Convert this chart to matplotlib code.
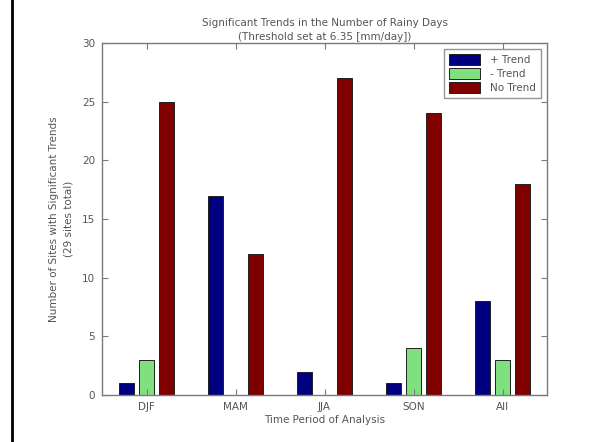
import matplotlib
matplotlib.use("Agg")
import matplotlib.pyplot as plt
import numpy as np
from matplotlib.lines import Line2D

categories = ["DJF", "MAM", "JJA", "SON", "All"]
plus_trend = [1, 17, 2, 1, 8]
minus_trend = [3, 0, 0, 4, 3]
no_trend = [25, 12, 27, 24, 18]
series_names = ["+ Trend", "- Trend", "No Trend"]
colors = ["#000080", "#80e080", "#800000"]

fig = plt.figure(figsize=(6.13, 4.42), dpi=100)
W, H = 613, 442
ax = fig.add_axes([102 / W, 1 - 395 / H, 445 / W, 352 / H])

x = np.arange(1, len(categories) + 1)
offs = [-0.22, 0.0, 0.22]
bw = 0.17
for vals, off, c, name in zip([plus_trend, minus_trend, no_trend], offs, colors, series_names):
    ax.bar(x + off, vals, width=bw, color=c, edgecolor="#202020", linewidth=0.7, label=name)

ax.set_xlim(0.5, 5.5)
ax.set_ylim(0, 30)
ax.set_yticks(range(0, 31, 5))
ax.set_xticks(x)
ax.set_xticklabels(categories)
gray = "#7a7a7a"
tcol = "#555555"
for s in ax.spines.values():
    s.set_color(gray)
    s.set_linewidth(1.0)
ax.tick_params(direction="in", top=True, right=True, length=4, color=gray,
               labelsize=7.5, labelcolor=tcol, pad=5)

ax.set_title("Significant Trends in the Number of Rainy Days\n(Threshold set at 6.35 [mm/day])",
             fontsize=7.5, color=tcol, pad=2, linespacing=1.5)
ax.set_xlabel("Time Period of Analysis", fontsize=7.5, color=tcol, labelpad=2)
ax.set_ylabel("Number of Sites with Significant Trends\n(29 sites total)", fontsize=7.5,
              color=tcol, labelpad=6, linespacing=1.6)

leg = ax.legend(loc="upper right", fontsize=7.5, frameon=True, fancybox=False,
                handlelength=3.0, handleheight=1.3, borderaxespad=0.6,
                labelspacing=0.25, handletextpad=1.0, borderpad=0.45)
leg.get_frame().set_edgecolor(gray)
leg.get_frame().set_linewidth(1.0)
for t in leg.get_texts():
    t.set_color(tcol)

fig.add_artist(Line2D([11.5 / W, 11.5 / W], [0, 1], color="black", linewidth=2,
                      transform=fig.transFigure))

fig.savefig("out.png", dpi=100)
